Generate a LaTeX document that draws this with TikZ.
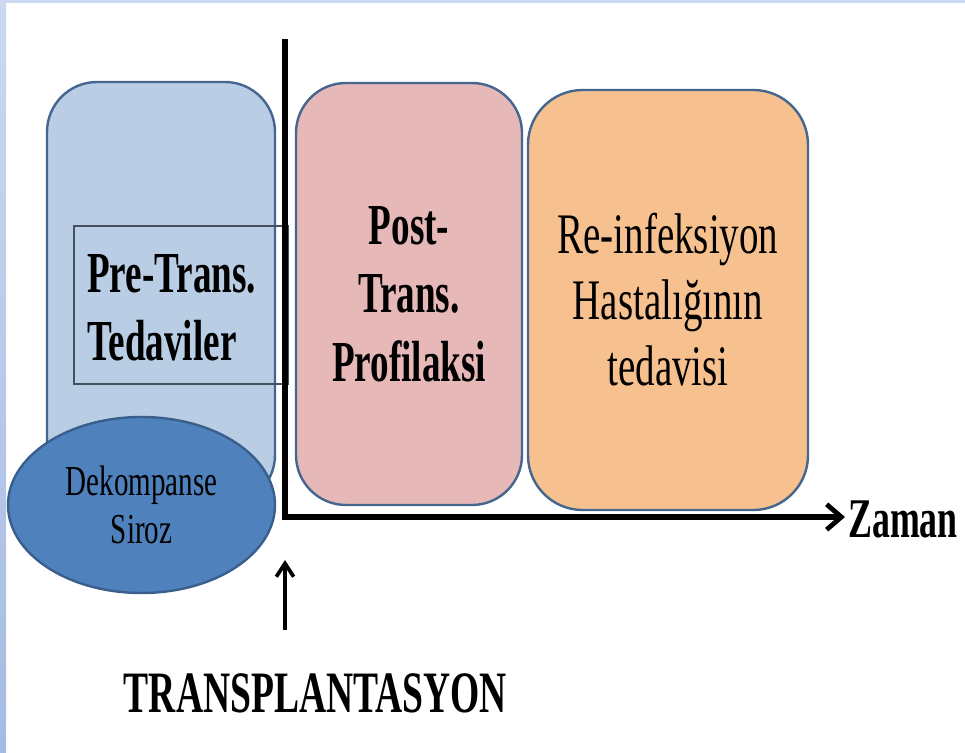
\documentclass[tikz,border=0pt]{standalone}
\usepackage{fontspec}
\setmainfont{Liberation Serif}
\newfontfamily\condrm[FakeStretch=0.68]{Liberation Serif}
\newfontfamily\condbf[FakeStretch=0.64]{Liberation Serif}
\usetikzlibrary{arrows.meta,shapes.geometric}

\definecolor{prefill}{HTML}{B9CDE5}
\definecolor{postfill}{HTML}{E6B9B8}
\definecolor{reinffill}{HTML}{F7C18F}
\definecolor{sirozfill}{HTML}{4F81BD}
\definecolor{sirozline}{HTML}{3A5F8C}
\definecolor{boxline}{HTML}{44668F}
\definecolor{framegray}{HTML}{46505C}
\definecolor{stripblue}{HTML}{CBD8EF}
\definecolor{striplow}{HTML}{A6BBE4}

\tikzset{
	phase/.style={draw=boxline, line width=1.8pt, rectangle, rounded corners=37.5pt, inner sep=0pt},
	boldtext/.style={font=\condbf\bfseries\fontsize{43.5}{51.5}\selectfont, align=center, inner sep=0pt},
	plaintext/.style={font=\condrm\fontsize{43}{49.5}\selectfont, align=center, inner sep=0pt},
	axisline/.style={line width=4pt, -{Straight Barb[length=11pt,width=19pt,line width=3.6pt]}},
}

\begin{document}
\begin{tikzpicture}[x=0.75pt,y=-0.75pt]
	\useasboundingbox (0,0) rectangle (965,753);
	\fill[white] (0,0) rectangle (965,753);
	
	% slide edge
	\fill[top color=stripblue, bottom color=striplow] (0,0) rectangle (6,753);
	\fill[stripblue] (0,0) rectangle (965,3);
	
	% phases
	\node[phase, fill=prefill, minimum width=171pt, minimum height=317.25pt] (pre) at (161,293.5) {};
	\node[draw=framegray, line width=0.9pt, inner sep=0pt, minimum width=160.5pt, minimum height=118.5pt] (preframe) at (181,305) {};
	\node[boldtext, align=left, anchor=base west, font=\condbf\bfseries\fontsize{43.5}{51}\selectfont] (pretext) at (87,360) {Pre-Trans.\\Tedaviler};
	
	\node[phase, fill=postfill, minimum width=169.5pt, minimum height=316.5pt] (post) at (409,294) {};
	\node[boldtext] (posttext) at (post.center) {Post-\\Trans.\\Profilaksi};
	
	\node[phase, fill=reinffill, rounded corners=41pt, minimum width=210pt, minimum height=315pt] (reinf) at (668,300) {};
	\node[plaintext] (reinftext) at (reinf.center) {Re-infeksiyon\\Hastalığının\\tedavisi};
	
	\node[ellipse, draw=sirozline, fill=sirozfill, line width=1.8pt, inner sep=0pt,
	      minimum width=200.25pt, minimum height=132pt,
	      font=\condrm\fontsize{32}{36}\selectfont, align=center] (siroz) at (141.5,505) {Dekompanse\\Siroz};
	
	% time axis
	\coordinate (ytop) at (285,39);
	\coordinate (o) at (285,517);
	\coordinate (xend) at (845,517);
	\draw[axisline] (ytop) -- (o) -- (xend);
	\node[boldtext, anchor=base west, font=\condbf\bfseries\fontsize{42}{46}\selectfont] (zaman) at (848,537) {Zaman};
	
	% transplant moment
	\coordinate (tbot) at (285,630);
	\coordinate (ttip) at (285,560);
	\draw[line width=3pt, -{Straight Barb[length=10pt,width=13pt,line width=2.8pt]}] (tbot) -- (ttip);
	\node[boldtext, anchor=base, font=\condbf\bfseries\fontsize{44}{50}\selectfont] (trans) at (315.5,712) {TRANSPLANTASYON};
	
\end{tikzpicture}
\end{document}
